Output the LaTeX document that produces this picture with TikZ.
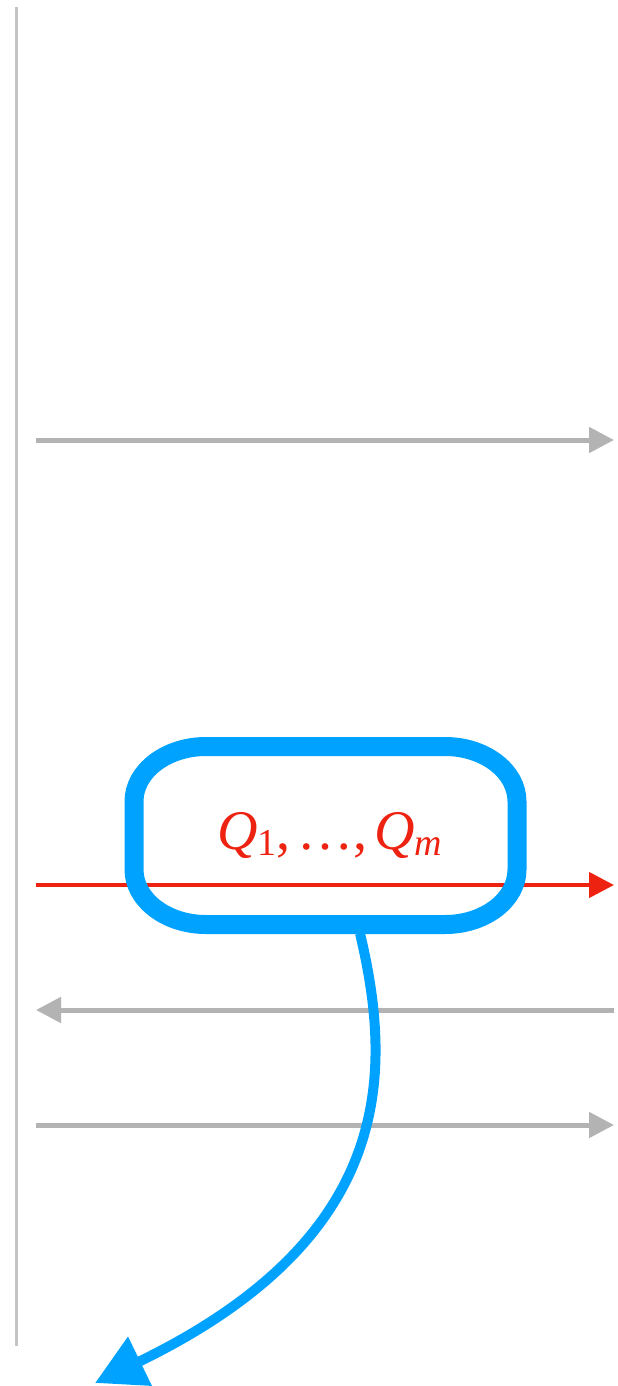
\documentclass[tikz,border=0pt]{standalone}
\usepackage{fontspec}
\setmainfont{Liberation Serif}
\usetikzlibrary{arrows.meta,calc}
\definecolor{lgray}{RGB}{179,179,179}
\definecolor{vgray}{RGB}{196,196,196}
\definecolor{qred}{RGB}{238,34,17}
\definecolor{qblue}{RGB}{0,162,255}
\newcommand{\subsz}{\fontsize{38}{44}\selectfont}
\tikzset{
  grayarrow/.style={draw=lgray,line width=5pt,-{Triangle[length=25pt,width=25pt]}},
  redarrow/.style={draw=qred,line width=4.5pt,-{Triangle[length=25pt,width=25pt]}},
  boxtext/.style={draw=none,minimum width=383pt,minimum height=178pt,inner sep=0pt,outer sep=0pt,text=qred,font=\fontsize{56}{64}\selectfont},
  boxline/.style={draw=qblue,line width=19pt},
  bluearrow/.style={draw=qblue,line width=10pt,-{Triangle[length=50pt,width=52pt]}}
}
\begin{document}
\begin{tikzpicture}[x=1pt,y=-1pt]
\useasboundingbox (0,0) rectangle (618,1386);
\coordinate (vtop) at (16,7);
\coordinate (vbot) at (16,1346);
\draw[vgray,line width=3pt] (vtop) -- (vbot);
\coordinate (a1l) at (36,440);
\coordinate (a1r) at (614,440);
\coordinate (rl) at (36,885);
\coordinate (rr) at (614,885);
\coordinate (a2l) at (36,1010);
\coordinate (a2r) at (614,1010);
\coordinate (a3l) at (36,1125);
\coordinate (a3r) at (614,1125);
\draw[grayarrow] (a1l) -- (a1r);
\draw[redarrow] (rl) -- (rr);
\draw[grayarrow] (a2r) -- (a2l);
\draw[grayarrow] (a3l) -- (a3r);
\node[boxtext] (box) at (325.5,835.5) {\hspace{8pt}\textit{Q}\raisebox{-0.22ex}{\subsz 1},\hspace{0.12em}\ldots,\hspace{0.12em}\textit{Q}\raisebox{-0.22ex}{\subsz\textit{m}}};
\begin{scope}[shift={(box.center)}]
\draw[boxline] (-119.5,-89) -- (119.5,-89)
  arc[start angle=-90,end angle=0,x radius=72,y radius=55] -- (191.5,34)
  arc[start angle=0,end angle=90,x radius=72,y radius=55] -- (-119.5,89)
  arc[start angle=90,end angle=180,x radius=72,y radius=55] -- (-191.5,-34)
  arc[start angle=180,end angle=270,x radius=72,y radius=55] -- cycle;
\end{scope}
\coordinate (tip) at (95,1383);
\draw[bluearrow] ($(box.south)+(34.5,9)$) .. controls (395,1080) and (390,1240) .. (tip);
\end{tikzpicture}
\end{document}
